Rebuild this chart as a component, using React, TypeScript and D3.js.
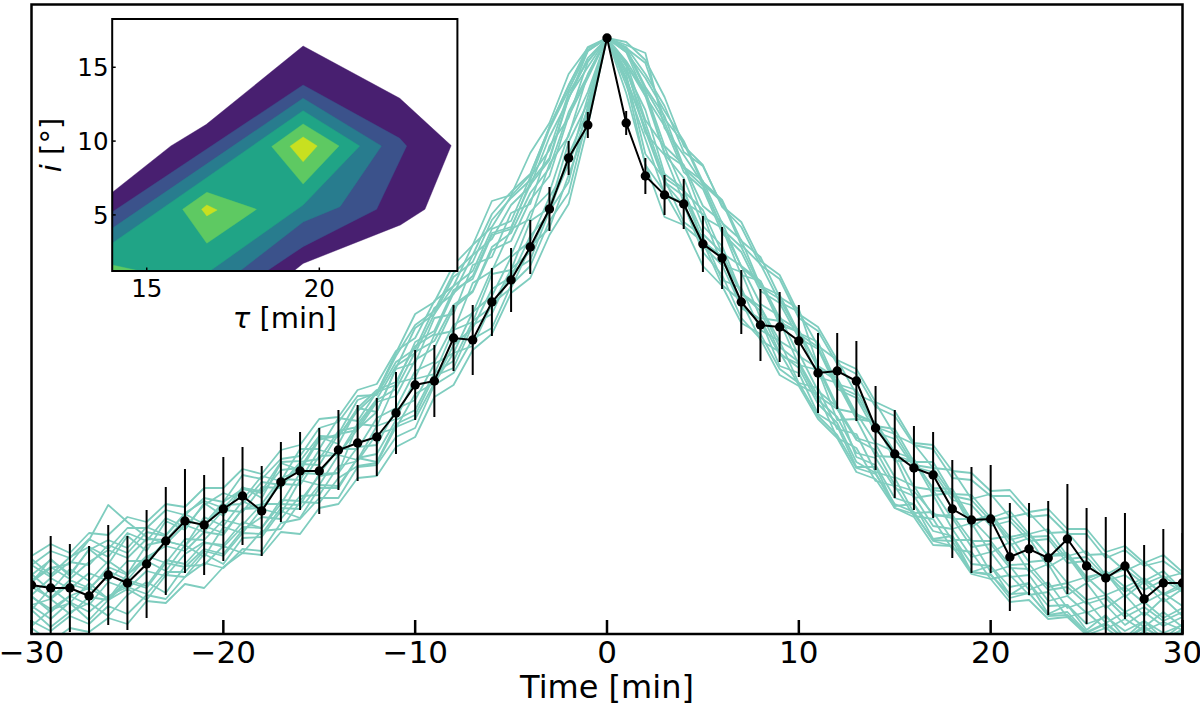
import React from "react";
import * as d3 from "d3";

// ---------------- data ----------------
const timeMin = [
  -30, -29, -28, -27, -26, -25, -24, -23, -22, -21, -20, -19, -18, -17, -16, -15, -14, -13, -12, -11,
  -10, -9, -8, -7, -6, -5, -4, -3, -2, -1, 0, 1, 2, 3, 4, 5, 6, 7, 8, 9, 10, 11, 12, 13, 14, 15, 16,
  17, 18, 19, 20, 21, 22, 23, 24, 25, 26, 27, 28, 29, 30,
];

// observed light curve (arbitrary flux units) and 1-sigma errors
const meanFlux = [
  49, 46, 46, 38, 59, 51, 70, 93, 113, 109, 125, 138, 123, 152, 163, 163, 184, 191, 197, 221,
  249, 253, 296, 294, 332, 354, 387, 425, 476, 509, 596, 511, 458, 439, 430, 390, 376, 332, 309, 307,
  293, 261, 263, 253, 206, 180, 166, 159, 125, 114, 115, 77, 85, 76, 95, 68, 56, 68, 35, 51, 51,
];
const meanErr = [
  45, 52, 44, 50, 50, 47, 54, 54, 52, 50, 52, 49, 45, 40, 39, 43, 40, 38, 39, 41,
  35, 36, 33, 35, 34, 32, 27, 22, 17, 13, 2, 12, 18, 20, 25, 28, 31, 32, 36, 35,
  36, 40, 38, 40, 42, 44, 42, 43, 49, 53, 54, 54, 46, 57, 55, 58, 61, 53, 54, 54, 50,
];

// simulated light curves
const simA = [13,3,18,10,28,20,39,35,57,71,66,85,83,111,115,136,136,167,169,197,206,249,261,295,306,349,368,413,441,518,596,553,469,442,408,392,349,333,294,282,249,239,196,186,153,148,118,115,85,82,55,59,39,42,17,22,5,15,3,12,4];
const simB = [69,83,76,95,85,106,106,124,119,136,132,159,155,175,178,206,212,238,239,272,285,326,340,379,395,429,448,497,535,583,596,586,571,515,491,450,432,389,370,332,322,288,274,240,231,199,190,166,164,135,140,117,121,101,102,79,80,63,72,56,61];
const simC = [51,35,50,44,67,59,78,71,95,94,114,109,130,130,161,160,185,185,216,226,263,272,309,321,365,379,422,442,500,542,596,572,514,487,443,424,381,368,330,318,278,266,225,221,191,182,147,144,115,115,95,98,72,74,51,57,39,47,31,41,28];
const simD = [29,35,20,37,34,52,46,71,67,85,80,104,117,115,138,139,168,173,200,206,240,251,289,306,345,357,398,421,479,524,596,555,506,452,438,393,376,341,327,287,272,238,225,194,184,149,143,120,116,87,90,66,65,44,47,30,36,17,27,13,22];
const simE = [54,67,55,72,84,76,95,94,115,108,129,130,152,149,172,175,203,207,234,245,282,293,329,343,387,401,441,466,522,559,596,582,538,508,462,445,401,382,343,331,296,285,245,236,202,195,167,162,134,129,108,113,93,95,71,73,53,59,44,54,42];
const simF = [6,-8,6,2,16,10,33,31,50,46,67,81,79,102,100,126,130,156,158,187,197,237,249,284,300,341,356,399,430,508,596,541,470,417,409,368,348,311,300,265,251,218,199,166,160,130,122,93,88,62,59,40,41,18,19,1,10,-5,6,-4,4];
const simG = [78,90,81,101,99,117,112,130,127,146,146,165,160,184,189,215,217,244,250,283,296,333,348,389,407,438,459,507,548,587,596,592,574,537,488,469,427,407,369,355,316,303,270,260,227,218,189,185,156,154,138,138,117,119,100,100,76,84,68,73,59];
const simH = [24,46,31,51,35,60,73,63,89,77,107,101,125,120,154,149,179,174,208,215,255,260,304,312,360,364,413,426,492,531,596,568,501,479,432,420,369,362,316,313,269,264,214,215,178,177,136,139,105,111,81,92,62,70,39,51,26,39,18,36,18];
const simI = [60,43,65,53,73,60,89,93,88,117,108,133,123,155,154,184,179,210,208,251,256,299,303,351,363,405,415,470,498,560,596,569,542,481,468,417,406,359,353,309,302,257,251,215,212,173,173,139,141,107,119,89,96,67,78,52,61,37,52,32,45];
const simJ = [8,24,31,14,34,45,34,59,57,80,70,96,97,123,116,146,146,176,172,210,219,258,266,309,320,362,374,423,452,528,596,560,480,455,412,398,354,346,304,293,251,246,205,200,162,156,121,122,94,94,62,68,44,52,26,33,11,22,7,22,7];
const simK = [75,59,77,87,77,101,93,116,107,129,141,134,158,153,185,185,216,213,242,249,292,303,344,355,399,405,452,476,537,567,596,586,547,518,467,453,411,394,348,339,301,292,250,244,208,205,172,172,140,139,116,123,100,105,78,83,59,70,53,63,44];
const simL = [52,66,70,94,129,112,97,90,109,102,124,122,147,146,170,169,200,204,232,238,274,286,326,342,384,393,434,458,518,556,596,589,581,506,479,450,406,368,353,316,304,266,253,218,212,182,175,144,141,112,120,97,101,78,79,55,63,47,56,39,47];
const simN = [24,7,22,31,18,39,52,41,68,69,88,81,103,105,132,131,156,168,171,207,215,251,281,288,330,346,387,406,459,512,596,573,543,488,469,428,412,367,350,312,302,268,256,220,211,178,173,146,145,114,117,94,99,79,81,57,61,42,54,40,50];
const simP = [59,74,60,84,94,86,107,99,121,133,126,146,143,172,173,198,197,226,244,252,288,300,341,358,401,407,449,474,536,576,596,549,495,440,431,388,369,327,315,279,270,234,217,181,176,146,138,108,105,77,82,57,59,33,38,21,29,9,22,8,17];
const simQ = [69,57,72,69,89,81,102,98,120,110,132,145,141,164,166,195,198,223,241,281,320,332,369,389,433,439,481,511,560,586,596,564,511,456,443,400,381,340,327,293,281,243,227,196,190,157,148,118,119,93,93,69,70,47,51,34,39,22,32,16,26];
const simR = [39,56,45,61,53,73,73,93,88,108,101,125,126,150,149,178,179,205,222,266,306,320,357,372,414,436,454,505,544,583,596,556,503,451,429,382,359,316,295,259,248,215,196,162,155,126,117,89,88,60,55,32,34,15,17,-1,6,-8,3,-9,2];
const simS = [37,25,38,29,52,45,63,58,80,92,87,107,106,134,133,158,161,210,235,268,281,320,348,363,405,413,457,484,541,573,596,582,556,523,493,452,434,393,377,337,325,268,228,177,169,136,130,103,98,70,68,47,51,28,29,10,17,3,13,1,9];
const simT = [28,15,32,22,38,47,40,62,62,83,78,101,100,126,125,149,148,176,180,214,224,261,273,313,327,365,382,426,470,520,596,587,560,528,482,468,428,412,373,359,320,307,274,265,232,223,191,189,163,161,143,144,122,125,105,105,82,88,71,79,62];
const simU = [51,75,58,85,70,98,83,113,104,131,118,147,136,171,164,197,190,226,222,265,271,316,320,369,377,421,430,488,516,572,596,563,524,460,445,392,378,326,314,268,261,220,208,167,167,128,130,95,98,62,68,39,51,20,29,4,19,-4,13,-5,10];
const simV = [47,36,54,46,63,54,77,88,83,102,99,125,130,156,163,194,200,234,241,278,309,323,361,379,420,442,460,507,549,584,596,584,545,512,466,448,405,387,347,335,300,287,248,239,207,200,169,166,138,134,113,117,97,98,75,77,57,65,50,58,44];
const simW = [38,22,38,46,35,54,48,74,70,91,89,112,106,130,129,160,161,187,189,225,234,270,281,322,338,377,393,437,469,537,596,570,538,480,456,408,388,341,323,281,266,230,211,172,161,126,120,94,93,62,60,36,41,19,22,2,11,-5,8,-7,5];
const simulations = [
  simA, simB, simC, simD, simE, simF, simG, simH, simI, simJ, simK,
  simL, simN, simP, simQ, simR, simS, simT, simU, simV, simW,
];

const xTickValues = [-30, -20, -10, 0, 10, 20, 30];
const fluxDomain = [0, 629.5];

// inset: filled contour bands (tau [min], inclination [deg]); band k = region above level k
const tauDomain = [14, 24];
const incDomain = [1.2, 18.27];
const tauTicks = [15, 20];
const incTicks = [5, 10, 15];

const band1 = [[
  [14, 6.52], [15.7, 9.67], [16.72, 11.12], [19.53, 16.44], [22.33, 12.9], [23.82, 9.7],
  [23.06, 5.38], [22.35, 4.32], [19.53, 1.71], [19.26, 1.2], [14, 1.2],
]];
const band2 = [[
  [14, 5.2], [19.53, 13.8], [22.33, 10.19], [22.53, 9.67], [21.66, 5.38], [19.53, 2.85],
  [18.48, 1.2], [14, 1.2],
]];
const band3 = [[
  [14, 4.09], [19.53, 12.9], [21.8, 9.67], [20.6, 5.56], [19.53, 4.52], [17.7, 1.2], [14, 1.2],
]];
const band4 = [[
  [14, 3.08], [19.53, 12.06], [21.17, 9.67], [19.53, 5.67], [16.83, 1.2], [14, 1.2],
]];
const band5 = [
  [[19.53, 11.16], [20.57, 9.67], [19.53, 7.09], [18.62, 9.63]],
  [[16.74, 6.53], [18.18, 5.38], [16.74, 3.08], [16.04, 5.38]],
  [[14, 1.61], [14.8, 1.2], [14, 1.2]],
];
const band6 = [
  [[19.53, 10.28], [19.94, 9.67], [19.53, 8.6], [19.15, 9.65]],
  [[16.74, 5.67], [17.04, 5.33], [16.74, 4.93], [16.59, 5.38]],
];
const contourBands = [band1, band2, band3, band4, band5, band6];

// ---------------- chart ----------------
const FONT = "DejaVu Sans, Verdana, sans-serif";
const fmt = (v: number) => (v < 0 ? "\u2212" + Math.abs(v) : String(v));

export default function App() {
  const W = 1200;
  const H = 704;
  const plot = { left: 31.5, right: 1182.5, top: 4.5, bottom: 634 };
  const x = d3.scaleLinear().domain([-30, 30]).range([plot.left, plot.right]);
  const y = d3.scaleLinear().domain(fluxDomain).range([plot.bottom, plot.top]);

  const line = d3
    .line<number>()
    .x((_, i) => x(timeMin[i]))
    .y((d) => y(d));

  const inset = { left: 112.2, right: 457.4, top: 19, bottom: 271 };
  const ix = d3.scaleLinear().domain(tauDomain).range([inset.left, inset.right]);
  const iy = d3.scaleLinear().domain(incDomain).range([inset.bottom, inset.top]);
  const poly = (pts: number[][]) =>
    "M" + pts.map((p) => `${ix(p[0])},${iy(p[1])}`).join("L") + "Z";
  const bandColor = (k: number) => d3.interpolateViridis((k + 0.5) / contourBands.length);

  return (
    <svg
      width={W}
      height={H}
      viewBox={`0 0 ${W} ${H}`}
      style={{ position: "fixed", left: 0, top: 0, background: "#fff" }}
      fontFamily={FONT}
    >
      <defs>
        <clipPath id="mainClip">
          <rect x={plot.left} y={plot.top} width={plot.right - plot.left} height={plot.bottom - plot.top} />
        </clipPath>
        <clipPath id="insetClip">
          <rect x={inset.left} y={inset.top} width={inset.right - inset.left} height={inset.bottom - inset.top} />
        </clipPath>
      </defs>
      <rect x={0} y={0} width={W} height={H} fill="#fff" />

      <g clipPath="url(#mainClip)">
        {simulations.map((s, k) => (
          <path key={k} d={line(s) || ""} fill="none" stroke="#7fcdbf" strokeWidth={1.8} strokeLinejoin="round" />
        ))}
        {meanFlux.map((v, i) => (
          <line
            key={"e" + i}
            x1={x(timeMin[i])}
            x2={x(timeMin[i])}
            y1={y(v - meanErr[i])}
            y2={y(v + meanErr[i])}
            stroke="#000"
            strokeWidth={2}
          />
        ))}
        <path d={line(meanFlux) || ""} fill="none" stroke="#000" strokeWidth={2} />
        {meanFlux.map((v, i) => (
          <circle key={"m" + i} cx={x(timeMin[i])} cy={y(v)} r={4.7} fill="#000" />
        ))}
      </g>

      {/* main frame */}
      <rect
        x={plot.left}
        y={plot.top}
        width={plot.right - plot.left}
        height={plot.bottom - plot.top}
        fill="none"
        stroke="#000"
        strokeWidth={2.5}
      />
      {xTickValues.map((t) => (
        <g key={"xt" + t}>
          <line x1={x(t)} x2={x(t)} y1={plot.bottom} y2={plot.bottom - 14} stroke="#000" strokeWidth={2.5} />
          <text x={x(t)} y={663} fontSize={31} textAnchor="middle" fill="#000">
            {fmt(t)}
          </text>
        </g>
      ))}
      <text x={(plot.left + plot.right) / 2} y={697.5} fontSize={32} textAnchor="middle" fill="#000">
        Time [min]
      </text>

      {/* inset */}
      <rect
        x={inset.left}
        y={inset.top}
        width={inset.right - inset.left}
        height={inset.bottom - inset.top}
        fill="#fff"
      />
      <g clipPath="url(#insetClip)">
        {contourBands.map((band, k) =>
          band.map((pts, j) => (
            <path
              key={`b${k}-${j}`}
              d={poly(pts)}
              fill={bandColor(k)}
              stroke={bandColor(k)}
              strokeWidth={0.4}
            />
          ))
        )}
      </g>
      <rect
        x={inset.left}
        y={inset.top}
        width={inset.right - inset.left}
        height={inset.bottom - inset.top}
        fill="none"
        stroke="#000"
        strokeWidth={2}
      />
      {incTicks.map((v) => (
        <g key={"iy" + v}>
          <line x1={inset.left} x2={inset.left + 3.5} y1={iy(v)} y2={iy(v)} stroke="#000" strokeWidth={1.5} />
          <text x={108.5} y={iy(v) + 9} fontSize={24.5} textAnchor="end" fill="#000">
            {v}
          </text>
        </g>
      ))}
      {tauTicks.map((v) => (
        <g key={"ix" + v}>
          <line x1={ix(v)} x2={ix(v)} y1={inset.bottom} y2={inset.bottom - 3.5} stroke="#000" strokeWidth={1.5} />
          <text x={ix(v)} y={296.5} fontSize={24.5} textAnchor="middle" fill="#000">
            {v}
          </text>
        </g>
      ))}
      <text x={(inset.left + inset.right) / 2} y={328} fontSize={29} textAnchor="middle" fill="#000">
        <tspan fontStyle="italic">τ</tspan>
        <tspan> [min]</tspan>
      </text>
      <text
        transform={`translate(61, ${(inset.top + inset.bottom) / 2}) rotate(-90)`}
        fontSize={29}
        textAnchor="middle"
        fill="#000"
      >
        <tspan fontStyle="italic">i</tspan>
        <tspan> [°]</tspan>
      </text>
    </svg>
  );
}
